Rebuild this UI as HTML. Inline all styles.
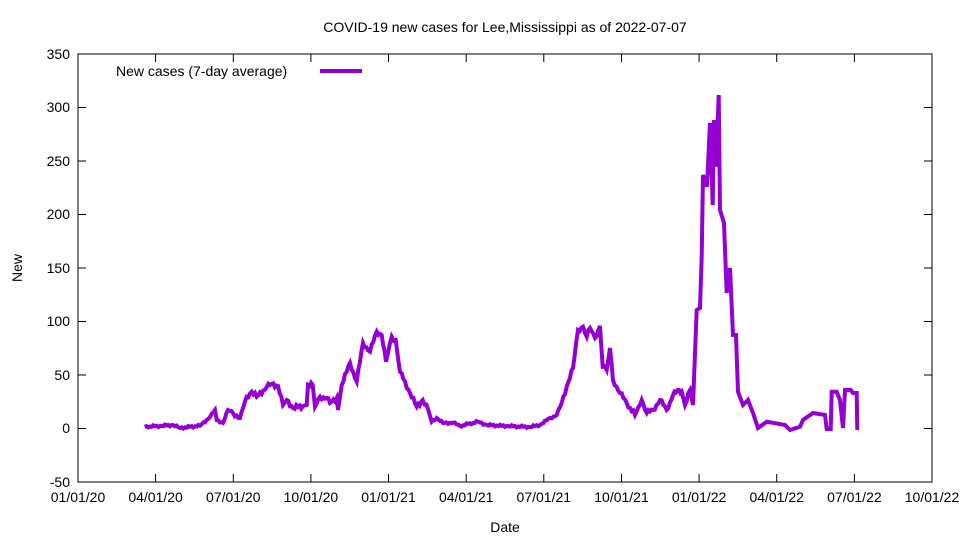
<!DOCTYPE html>
<html><head><meta charset="utf-8"><style>body{margin:0;background:#fff}svg{display:block}text{font-family:"Liberation Sans",sans-serif;font-size:14px;fill:#000}</style></head>
<body>
<svg width="960" height="540" viewBox="0 0 960 540">
<rect x="78" y="54" width="854" height="428" fill="none" stroke="#000" stroke-width="1"/>
<g stroke="#000" stroke-width="1">
<path d="M78,482h8M78,428.5h8M78,375h8M78,321.5h8M78,268h8M78,214.5h8M78,161h8M78,107.5h8M78,54h8
M932,482h-8M932,428.5h-8M932,375h-8M932,321.5h-8M932,268h-8M932,214.5h-8M932,161h-8M932,107.5h-8"/>
<path d="M155.6,482v-8M233.3,482v-8M310.9,482v-8M388.5,482v-8M466.2,482v-8M543.8,482v-8M621.5,482v-8M699.1,482v-8M776.7,482v-8M854.4,482v-8
M155.6,54v8M233.3,54v8M310.9,54v8M388.5,54v8M466.2,54v8M543.8,54v8M621.5,54v8M699.1,54v8M776.7,54v8M854.4,54v8"/>
</g>
<g text-anchor="end">
<text x="70" y="487">-50</text><text x="70" y="433">0</text><text x="70" y="380">50</text><text x="70" y="326">100</text><text x="70" y="273">150</text><text x="70" y="219">200</text><text x="70" y="166">250</text><text x="70" y="112">300</text><text x="70" y="59">350</text>
</g>
<g text-anchor="middle">
<text x="78" y="502">01/01/20</text><text x="155.6" y="502">04/01/20</text><text x="233.3" y="502">07/01/20</text><text x="310.9" y="502">10/01/20</text><text x="388.5" y="502">01/01/21</text><text x="466.2" y="502">04/01/21</text><text x="543.8" y="502">07/01/21</text><text x="621.5" y="502">10/01/21</text><text x="699.1" y="502">01/01/22</text><text x="776.7" y="502">04/01/22</text><text x="854.4" y="502">07/01/22</text><text x="932" y="502">10/01/22</text>
<text x="505" y="532">Date</text>
<text x="505" y="32">COVID-19 new cases for Lee,Mississippi as of 2022-07-07</text>
<text transform="translate(22,268) rotate(-90)">New</text>
</g>
<text x="116" y="76">New cases (7-day average)</text>
<line x1="320" y1="71" x2="362" y2="71" stroke="#9400d3" stroke-width="4"/>
<polyline id="a" fill="none" stroke="#9400d3" stroke-width="4" points="144.7,426.7 160,426 173,425 180,428 200,425.7 210,417 215,410 216.7,420 223,423 228,410 233,413 240,418 246.7,396.7 251.7,391.7 256.7,396.7 266.7,387 271.7,384 278,386 283,405 286.7,400 293,408 303,406 306.7,405 308,385 312.7,385 315,406.7 320,396.7 326.7,398 330,403 336.7,398 338,410 341.7,385 350,363 356.7,381.7 363,343 370,351.7 376.7,331.7 381.7,335 386,361.7 391.7,336.7 395.7,340 400,371.7 410,393 416.7,406.7 422.7,400 428.3,410 431.7,421.7 436.7,418 443,423 453,422.7 460,426 478,421.7 486.7,425 506.7,426 530,427 540,425 550,418 556.7,415 561.7,403 566.7,386.7 573,368 578,330 583,326.7 586.7,336.7 590,328 595,338 600,326 602.7,366.7 606.7,370 610,348 613,380 620,393 626.7,403 635,415 641.7,400 646.7,413 653,410 660,400 666.7,410 673,395 679,390 681.7,391.7 685,405 690,390 693,405 696.7,310 700,308 701.7,256.7 703,175 707,186.7 710,123 712.7,205 714,120 716,166.7 718.7,95 720,210 724,223 726.7,293 730,268 733,335 736,335 738,391.7 743,405 748,400 753,413 758,428 766.7,421.7 785,425 790,430 800,426.7 803,420 813,413 825,415 826.7,429 830.7,429 831.7,391.7 836.7,391.7 840,400 843,428 845,390 850.7,390 853,393 856.7,393 857.3,430"/>
</svg>
<script>
(function(){var pl=document.getElementById('a');var pts=pl.getAttribute('points').trim().split(/\s+/).map(function(s){return s.split(',').map(Number)});
var out=[];var k=0;for(var i=0;i<pts.length-1;i++){var a=pts[i],b=pts[i+1];var dx=b[0]-a[0];
if(a[0]>690||dx<2){out.push(a);continue;}var n=Math.max(1,Math.round(dx/1.7));
for(var j=0;j<n;j++){var t=j/n;var x=a[0]+dx*t,y=a[1]+(b[1]-a[1])*t;var amp=a[1]<415?2.2:1;y+=(j===0?0:((k++%2)?amp:-amp)*((k*7)%3/2));out.push([x,y]);}}
out.push(pts[pts.length-1]);pl.setAttribute('points',out.map(function(p){return p[0].toFixed(1)+','+p[1].toFixed(1)}).join(' '));})();
</script>
</body></html>
